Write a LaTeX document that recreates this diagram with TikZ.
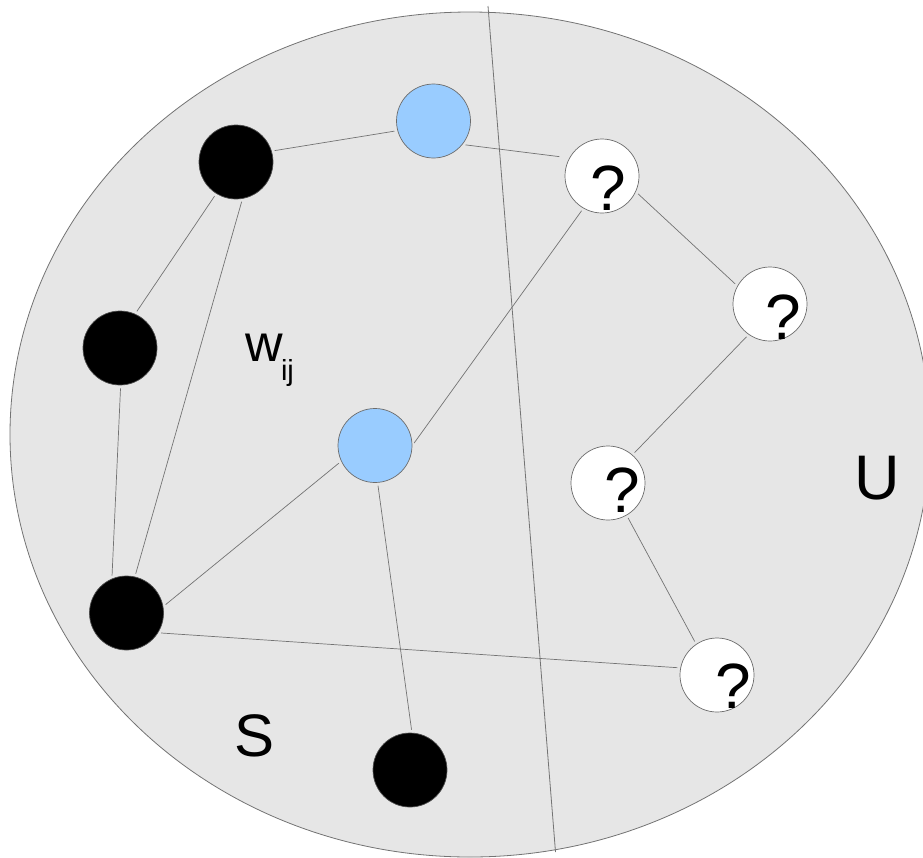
\documentclass[tikz,border=0pt]{standalone}
\usepackage{fontspec}
\setmainfont{Liberation Sans}
\begin{document}
\begin{tikzpicture}[x=1pt,y=-1pt,
  vertex/.style={circle,minimum size=74pt,inner sep=0pt,draw=gray!85!black,line width=0.7pt},
  known/.style={vertex,fill=black,draw=gray!60!black},
  mid/.style={vertex,fill={rgb,255:red,153;green,204;blue,255}},
  unknown/.style={vertex,fill=white},
  edge/.style={draw=gray!90!black,line width=0.7pt,shorten <=3pt,shorten >=3pt},
  qmark/.style={anchor=base,inner sep=0pt,font=\fontsize{64}{64}\selectfont},
  big/.style={anchor=base,inner sep=0pt,font=\fontsize{60}{60}\selectfont}]
\useasboundingbox (0,0) rectangle (923,857);
\clip (0,0) rectangle (923,857);

% the whole set
\draw[fill={rgb,255:red,230;green,230;blue,230},draw=gray!90!black,line width=0.8pt]
  (470,434.5) ellipse [x radius=460pt, y radius=422.5pt];

% boundary between S and U
\coordinate (cutTop) at (488,6);
\coordinate (cutBot) at (555.5,852);
\draw[draw=gray!90!black,line width=0.8pt] (cutTop) -- (cutBot);

% vertices
\node[known]   (A)  at (236,162) {};
\node[known]   (C)  at (120,348) {};
\node[known]   (D)  at (126.5,613) {};
\node[known]   (E)  at (410,770) {};
\node[mid]     (B1) at (433.5,121) {};
\node[mid]     (B2) at (375,445.5) {};
\node[unknown] (Q1) at (602,176) {};
\node[unknown] (Q2) at (770,304) {};
\node[unknown] (Q3) at (608,483) {};
\node[unknown] (Q4) at (717,675) {};

% question marks on unlabelled vertices
\node[qmark] (q1) at (608.5,210) {?};
\node[qmark] (q2) at (783,339) {?};
\node[qmark] (q3) at (622,512) {?};
\node[qmark] (q4) at (733,708) {?};

% edges, attached at fixed points of each vertex's rim
\draw[edge] (A.17)   -- (B1.195);
\draw[edge,shorten >=10pt] (B1.321) -- (Q1.151);
\draw[edge] (Q1.335) -- (Q2.151);
\draw[edge] (Q2.235) -- (Q3.49);
\draw[edge] (Q3.300) -- (Q4.124);
\draw[edge] (A.238)  -- (C.66);
\draw[edge] (A.280)  -- (D.77);
\draw[edge] (C.271)  -- (D.113);
\draw[edge] (D.10)   -- (B2.205);
\draw[edge] (B2.0)   -- (Q1.240);
\draw[edge] (B2.274) -- (E.87);
\draw[edge] (D.328)  -- (Q4.169);

% labels
\node[anchor=base,inner sep=0pt,font=\fontsize{52}{52}\selectfont] (w) at (264,361) {w};
\node[anchor=base,inner sep=0pt,font=\fontsize{29}{29}\selectfont] (ij) at (287.5,380) {ij};
\node[big] (S) at (255,756) {S};
\node[big,font=\fontsize{63}{63}\selectfont] (U) at (877.5,499) {U};
\end{tikzpicture}
\end{document}
